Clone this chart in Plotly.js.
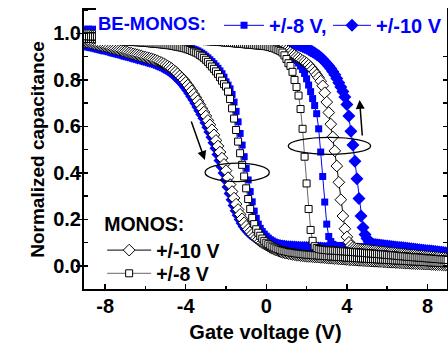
<!DOCTYPE html>
<html>
<head>
<meta charset="utf-8">
<script src="https://cdn.plot.ly/plotly-3.0.1.min.js"></script>
<style>html,body{margin:0;padding:0;background:#fff;}#chart{width:448px;height:343px;}</style>
</head>
<body>
<div id="chart"></div>
<script>
// Gate voltage grid (V), 0.1 V step
const voltage = [
-9.0,-8.9,-8.8,-8.7,-8.6,-8.5,-8.4,-8.3,-8.2,-8.1,
-8.0,-7.9,-7.8,-7.7,-7.6,-7.5,-7.4,-7.3,-7.2,-7.1,
-7.0,-6.9,-6.8,-6.7,-6.6,-6.5,-6.4,-6.3,-6.2,-6.1,
-6.0,-5.9,-5.8,-5.7,-5.6,-5.5,-5.4,-5.3,-5.2,-5.1,
-5.0,-4.9,-4.8,-4.7,-4.6,-4.5,-4.4,-4.3,-4.2,-4.1,
-4.0,-3.9,-3.8,-3.7,-3.6,-3.5,-3.4,-3.3,-3.2,-3.1,
-3.0,-2.9,-2.8,-2.7,-2.6,-2.5,-2.4,-2.3,-2.2,-2.1,
-2.0,-1.9,-1.8,-1.7,-1.6,-1.5,-1.4,-1.3,-1.2,-1.1,
-1.0,-0.9,-0.8,-0.7,-0.6,-0.5,-0.4,-0.3,-0.2,-0.1,
0.0,0.1,0.2,0.3,0.4,0.5,0.6,0.7,0.8,0.9,
1.0,1.1,1.2,1.3,1.4,1.5,1.6,1.7,1.8,1.9,
2.0,2.1,2.2,2.3,2.4,2.5,2.6,2.7,2.8,2.9,
3.0,3.1,3.2,3.3,3.4,3.5,3.6,3.7,3.8,3.9,
4.0,4.1,4.2,4.3,4.4,4.5,4.6,4.7,4.8,4.9,
5.0,5.1,5.2,5.3,5.4,5.5,5.6,5.7,5.8,5.9,
6.0,6.1,6.2,6.3,6.4,6.5,6.6,6.7,6.8,6.9,
7.0,7.1,7.2,7.3,7.4,7.5,7.6,7.7,7.8,7.9,
8.0,8.1,8.2,8.3,8.4,8.5,8.6,8.7,8.8,8.9,
9.0];

// Axis tick labels
const xTickVals = [-8, -4, 0, 4, 8];
const xTickText = ['-8', '-4', '0', '4', '8'];

// MONOS +/-10 V, left (erased) branch
const monos10Left = [
0.965,0.963,0.961,0.959,0.957,0.955,0.953,0.951,0.949,0.947,
0.945,0.943,0.941,0.938,0.936,0.934,0.931,0.929,0.927,0.924,
0.922,0.920,0.917,0.915,0.912,0.910,0.908,0.905,0.903,0.900,
0.898,0.896,0.893,0.891,0.888,0.885,0.882,0.878,0.874,0.870,
0.865,0.860,0.855,0.849,0.842,0.835,0.827,0.818,0.809,0.800,
0.790,0.778,0.766,0.753,0.739,0.725,0.710,0.694,0.678,0.662,
0.645,0.626,0.607,0.586,0.564,0.540,0.516,0.490,0.464,0.437,
0.410,0.380,0.350,0.320,0.292,0.266,0.243,0.222,0.203,0.186,
0.171,0.158,0.147,0.137,0.128,0.120,0.113,0.106,0.100,0.095,
0.090,0.085,0.080,0.076,0.072,0.068,0.065,0.062,0.059,0.057,
0.055,0.053,0.052,0.050,0.049,0.047,0.046,0.045,0.044,0.043,
0.042,0.041,0.041,0.040,0.039,0.039,0.038,0.037,0.037,0.036,
0.035,0.034,0.034,0.033,0.032,0.032,0.031,0.030,0.030,0.029,
0.028,0.027,0.027,0.026,0.026,0.025,0.024,0.024,0.023,0.023,
0.022,0.022,0.021,0.021,0.020,0.020,0.019,0.019,0.018,0.018,
0.017,0.017,0.016,0.016,0.015,0.015,0.014,0.014,0.013,0.013,
0.012,0.012,0.011,0.011,0.010,0.010,0.010,0.009,0.009,0.008,
0.008,0.008,0.007,0.007,0.006,0.006,0.006,0.005,0.005,0.004,
0.004];

// MONOS +/-10 V, right (programmed) branch
const monos10Right = [
0.992,0.992,0.992,0.991,0.991,0.991,0.990,0.990,0.990,0.990,
0.990,0.989,0.989,0.989,0.989,0.988,0.988,0.988,0.988,0.987,
0.987,0.987,0.987,0.986,0.986,0.986,0.986,0.986,0.985,0.985,
0.985,0.985,0.984,0.984,0.984,0.983,0.983,0.983,0.982,0.982,
0.982,0.981,0.981,0.981,0.980,0.980,0.980,0.979,0.979,0.979,
0.978,0.978,0.978,0.977,0.977,0.977,0.976,0.976,0.976,0.975,
0.975,0.974,0.974,0.973,0.973,0.972,0.972,0.971,0.970,0.970,
0.969,0.968,0.968,0.967,0.966,0.966,0.965,0.964,0.963,0.962,
0.962,0.961,0.960,0.960,0.959,0.958,0.958,0.957,0.956,0.956,
0.955,0.954,0.952,0.951,0.949,0.947,0.944,0.941,0.937,0.933,
0.928,0.923,0.918,0.912,0.906,0.900,0.895,0.889,0.883,0.878,
0.872,0.864,0.855,0.845,0.834,0.822,0.810,0.795,0.775,0.745,
0.705,0.660,0.610,0.555,0.495,0.430,0.360,0.285,0.215,0.160,
0.125,0.102,0.088,0.080,0.076,0.074,0.072,0.071,0.070,0.069,
0.068,0.067,0.066,0.065,0.064,0.063,0.062,0.061,0.060,0.059,
0.058,0.057,0.056,0.055,0.054,0.053,0.052,0.051,0.050,0.049,
0.048,0.047,0.046,0.046,0.045,0.044,0.043,0.042,0.041,0.040,
0.040,0.039,0.038,0.037,0.036,0.036,0.035,0.034,0.033,0.032,
0.031];

// MONOS +/-8 V, left branch
const monos8Left = [
0.978,0.977,0.977,0.976,0.976,0.975,0.975,0.974,0.973,0.973,
0.972,0.971,0.971,0.970,0.970,0.969,0.968,0.968,0.967,0.967,
0.966,0.965,0.965,0.964,0.963,0.963,0.962,0.962,0.961,0.960,
0.960,0.959,0.958,0.957,0.956,0.956,0.955,0.954,0.953,0.952,
0.951,0.950,0.949,0.948,0.946,0.944,0.943,0.941,0.939,0.937,
0.935,0.932,0.929,0.925,0.922,0.918,0.914,0.908,0.902,0.895,
0.887,0.878,0.868,0.858,0.848,0.837,0.826,0.812,0.797,0.782,
0.772,0.750,0.718,0.678,0.634,0.585,0.535,0.485,0.435,0.385,
0.334,0.288,0.245,0.207,0.180,0.158,0.143,0.130,0.118,0.108,
0.100,0.094,0.088,0.083,0.079,0.075,0.072,0.069,0.066,0.064,
0.062,0.060,0.058,0.057,0.056,0.054,0.053,0.052,0.051,0.050,
0.049,0.048,0.048,0.047,0.046,0.046,0.045,0.044,0.044,0.043,
0.042,0.042,0.041,0.041,0.040,0.039,0.039,0.038,0.038,0.037,
0.036,0.036,0.035,0.035,0.034,0.034,0.033,0.033,0.032,0.032,
0.031,0.031,0.030,0.030,0.029,0.029,0.028,0.028,0.027,0.027,
0.026,0.026,0.025,0.025,0.024,0.024,0.023,0.023,0.022,0.022,
0.021,0.021,0.020,0.020,0.019,0.019,0.018,0.018,0.017,0.017,
0.016,0.016,0.015,0.015,0.014,0.014,0.013,0.013,0.012,0.012,
0.011];

// MONOS +/-8 V, right branch
const monos8Right = [
0.988,0.988,0.988,0.987,0.987,0.987,0.987,0.986,0.986,0.986,
0.985,0.985,0.985,0.985,0.984,0.984,0.984,0.984,0.983,0.983,
0.983,0.983,0.982,0.982,0.982,0.982,0.981,0.981,0.981,0.980,
0.980,0.980,0.979,0.979,0.979,0.978,0.978,0.978,0.977,0.977,
0.976,0.976,0.976,0.975,0.975,0.974,0.974,0.974,0.973,0.973,
0.972,0.972,0.971,0.971,0.971,0.970,0.970,0.969,0.969,0.968,
0.968,0.967,0.967,0.966,0.965,0.965,0.964,0.963,0.963,0.962,
0.961,0.960,0.960,0.959,0.958,0.957,0.956,0.956,0.955,0.954,
0.953,0.952,0.952,0.951,0.950,0.949,0.948,0.948,0.947,0.946,
0.945,0.943,0.941,0.938,0.936,0.932,0.928,0.924,0.918,0.906,
0.890,0.872,0.860,0.835,0.800,0.770,0.733,0.675,0.590,0.470,
0.355,0.245,0.155,0.108,0.085,0.077,0.073,0.071,0.070,0.069,
0.068,0.067,0.067,0.066,0.066,0.065,0.064,0.064,0.063,0.063,
0.062,0.061,0.061,0.060,0.059,0.059,0.058,0.057,0.057,0.056,
0.055,0.054,0.054,0.053,0.052,0.052,0.051,0.050,0.050,0.049,
0.048,0.047,0.046,0.046,0.045,0.044,0.043,0.042,0.042,0.041,
0.040,0.039,0.039,0.038,0.037,0.037,0.036,0.035,0.035,0.034,
0.033,0.032,0.032,0.031,0.030,0.030,0.029,0.028,0.028,0.027,
0.026];

// BE-MONOS +/-8 V, left branch
const be8Left = [
0.982,0.981,0.981,0.980,0.980,0.979,0.979,0.978,0.978,0.977,
0.977,0.976,0.976,0.975,0.975,0.974,0.974,0.973,0.972,0.972,
0.971,0.971,0.970,0.970,0.969,0.968,0.968,0.967,0.966,0.966,
0.965,0.964,0.964,0.963,0.962,0.961,0.960,0.960,0.959,0.958,
0.957,0.956,0.955,0.954,0.953,0.952,0.950,0.949,0.947,0.945,
0.943,0.941,0.938,0.935,0.932,0.929,0.925,0.920,0.915,0.909,
0.902,0.895,0.887,0.879,0.870,0.860,0.850,0.839,0.827,0.812,
0.792,0.778,0.762,0.738,0.705,0.665,0.620,0.570,0.520,0.470,
0.420,0.370,0.320,0.276,0.236,0.205,0.180,0.162,0.148,0.137,
0.128,0.120,0.113,0.108,0.103,0.099,0.096,0.094,0.092,0.090,
0.088,0.087,0.086,0.086,0.085,0.084,0.084,0.083,0.083,0.082,
0.082,0.081,0.081,0.080,0.080,0.079,0.079,0.079,0.078,0.078,
0.077,0.077,0.077,0.076,0.076,0.075,0.075,0.075,0.074,0.074,
0.073,0.073,0.072,0.072,0.072,0.071,0.071,0.070,0.070,0.070,
0.069,0.069,0.068,0.068,0.067,0.067,0.066,0.066,0.065,0.065,
0.064,0.063,0.063,0.062,0.062,0.061,0.060,0.060,0.059,0.059,
0.058,0.057,0.057,0.056,0.056,0.055,0.054,0.054,0.053,0.053,
0.052,0.051,0.051,0.050,0.050,0.049,0.048,0.048,0.047,0.047,
0.046];

// BE-MONOS +/-8 V, right branch
const be8Right = [
1.005,1.005,1.005,1.005,1.004,1.004,1.004,1.004,1.004,1.003,
1.003,1.003,1.003,1.003,1.003,1.003,1.002,1.002,1.002,1.002,
1.002,1.002,1.002,1.001,1.001,1.001,1.001,1.001,1.001,1.000,
1.000,1.000,1.000,1.000,1.000,0.999,0.999,0.999,0.999,0.999,
0.998,0.998,0.998,0.997,0.997,0.997,0.996,0.996,0.996,0.995,
0.995,0.995,0.994,0.994,0.993,0.993,0.993,0.992,0.992,0.991,
0.991,0.990,0.990,0.989,0.988,0.988,0.987,0.986,0.986,0.985,
0.984,0.983,0.983,0.982,0.981,0.980,0.979,0.979,0.978,0.977,
0.976,0.975,0.975,0.974,0.973,0.972,0.972,0.971,0.970,0.970,
0.969,0.967,0.965,0.963,0.960,0.957,0.953,0.948,0.942,0.934,
0.926,0.918,0.910,0.902,0.893,0.884,0.873,0.860,0.845,0.828,
0.805,0.778,0.750,0.720,0.690,0.655,0.590,0.490,0.385,0.275,
0.180,0.127,0.105,0.093,0.089,0.088,0.087,0.087,0.086,0.086,
0.085,0.085,0.084,0.084,0.083,0.083,0.082,0.082,0.081,0.081,
0.080,0.080,0.079,0.078,0.078,0.077,0.077,0.076,0.075,0.075,
0.074,0.073,0.073,0.072,0.071,0.071,0.070,0.069,0.069,0.068,
0.067,0.066,0.066,0.065,0.064,0.063,0.063,0.062,0.061,0.060,
0.060,0.059,0.058,0.057,0.057,0.056,0.055,0.054,0.054,0.053,
0.052];

// BE-MONOS +/-10 V, left branch
const be10Left = [
0.953,0.951,0.949,0.947,0.945,0.943,0.941,0.939,0.937,0.935,
0.933,0.931,0.928,0.926,0.924,0.921,0.919,0.917,0.914,0.912,
0.910,0.907,0.905,0.902,0.900,0.898,0.895,0.893,0.890,0.888,
0.886,0.883,0.881,0.878,0.875,0.872,0.868,0.864,0.860,0.855,
0.850,0.845,0.839,0.832,0.825,0.817,0.808,0.799,0.790,0.780,
0.768,0.756,0.743,0.729,0.715,0.700,0.684,0.668,0.652,0.635,
0.616,0.597,0.576,0.554,0.530,0.506,0.480,0.454,0.427,0.400,
0.370,0.340,0.312,0.285,0.260,0.238,0.218,0.200,0.184,0.170,
0.158,0.148,0.140,0.133,0.127,0.121,0.116,0.111,0.107,0.103,
0.100,0.097,0.095,0.093,0.091,0.089,0.088,0.087,0.086,0.085,
0.084,0.083,0.083,0.082,0.082,0.081,0.081,0.080,0.080,0.079,
0.079,0.079,0.078,0.078,0.078,0.077,0.077,0.077,0.076,0.076,
0.076,0.075,0.075,0.075,0.074,0.074,0.074,0.073,0.073,0.073,
0.072,0.072,0.072,0.071,0.071,0.071,0.070,0.070,0.070,0.069,
0.069,0.068,0.068,0.067,0.067,0.066,0.066,0.065,0.065,0.064,
0.064,0.063,0.063,0.062,0.062,0.061,0.061,0.060,0.060,0.059,
0.059,0.058,0.058,0.057,0.056,0.056,0.055,0.055,0.054,0.054,
0.053,0.053,0.052,0.051,0.051,0.050,0.050,0.049,0.049,0.048,
0.048];

// BE-MONOS +/-10 V, right branch
const be10Right = [
1.008,1.008,1.008,1.008,1.007,1.007,1.007,1.007,1.007,1.006,
1.006,1.006,1.006,1.006,1.005,1.005,1.005,1.005,1.005,1.004,
1.004,1.004,1.004,1.004,1.003,1.003,1.003,1.003,1.003,1.002,
1.002,1.002,1.002,1.001,1.001,1.001,1.001,1.000,1.000,1.000,
1.000,0.999,0.999,0.999,0.999,0.998,0.998,0.998,0.997,0.997,
0.997,0.996,0.996,0.996,0.995,0.995,0.995,0.994,0.994,0.994,
0.993,0.993,0.992,0.992,0.991,0.991,0.990,0.990,0.989,0.989,
0.988,0.988,0.987,0.987,0.986,0.985,0.985,0.984,0.983,0.983,
0.982,0.981,0.981,0.980,0.979,0.979,0.978,0.977,0.977,0.976,
0.975,0.974,0.974,0.973,0.972,0.971,0.970,0.969,0.968,0.966,
0.964,0.962,0.960,0.958,0.956,0.953,0.950,0.947,0.944,0.940,
0.936,0.931,0.926,0.921,0.916,0.910,0.904,0.897,0.889,0.880,
0.870,0.860,0.849,0.836,0.822,0.806,0.788,0.770,0.750,0.727,
0.695,0.645,0.580,0.520,0.450,0.375,0.290,0.215,0.165,0.135,
0.118,0.104,0.097,0.094,0.092,0.091,0.090,0.089,0.088,0.087,
0.086,0.085,0.084,0.083,0.082,0.081,0.080,0.079,0.078,0.077,
0.076,0.075,0.074,0.073,0.072,0.071,0.070,0.069,0.068,0.067,
0.066,0.065,0.064,0.063,0.062,0.061,0.060,0.059,0.058,0.057,
0.056];

const FONT = 'Liberation Sans, Arial, sans-serif';
const BLUE = '#0000ff';

function loop(left, right) {
  return {x: voltage.concat([null], voltage), y: left.concat([null], right)};
}

const traces = [
  Object.assign(loop(be10Left, be10Right), {
    type: 'scatter', mode: 'lines+markers', name: '+/-10 V', legend: 'legend4',
    line: {color: BLUE, width: 1},
    marker: {symbol: 'diamond', size: 10, color: BLUE, line: {width: 0}},
    connectgaps: false
  }),
  Object.assign(loop(be8Left, be8Right), {
    type: 'scatter', mode: 'lines+markers', name: '+/-8 V,', legend: 'legend',
    line: {color: BLUE, width: 1},
    marker: {symbol: 'square', size: 7, color: BLUE, line: {width: 0}},
    connectgaps: false
  }),
  Object.assign(loop(monos10Left, monos10Right), {
    type: 'scatter', mode: 'lines+markers', name: '+/-10 V', legend: 'legend2',
    line: {color: '#000000', width: 1},
    marker: {symbol: 'diamond', size: 9, color: '#ffffff', line: {color: '#000000', width: 1}},
    connectgaps: false
  }),
  Object.assign(loop(monos8Left, monos8Right), {
    type: 'scatter', mode: 'lines+markers', name: '+/-8 V', legend: 'legend3',
    line: {color: '#666666', width: 1},
    marker: {symbol: 'square', size: 7, color: '#ffffff', line: {color: '#000000', width: 1}},
    connectgaps: false
  })
];

const layout = {
  width: 448, height: 343,
  margin: {l: 84, r: 1, t: 10, b: 54},
  paper_bgcolor: '#ffffff', plot_bgcolor: '#ffffff',
  font: {family: FONT, size: 19, color: '#000000', weight: 'bold'},
  showlegend: true,
  xaxis: {
    range: [-9.05, 8.97], tickmode: 'array', tickvals: xTickVals, ticktext: xTickText,
    ticks: 'inside', ticklen: 5, tickwidth: 1.5, tickcolor: '#000',
    minor: {tickmode: 'linear', tick0: 0, dtick: 2, ticks: 'inside', ticklen: 3, tickwidth: 1.5, tickcolor: '#000'},
    showline: true, linewidth: 2, linecolor: '#000', mirror: 'ticks',
    showgrid: false, zeroline: false,
    tickfont: {family: FONT, size: 20, weight: 'bold'},
    ticklabelstandoff: -2,
    title: {text: 'Gate voltage (V)', font: {family: FONT, size: 20, weight: 'bold'}, standoff: 19}
  },
  yaxis: {
    range: [-0.099, 1.101], tick0: 0, dtick: 0.2, tickformat: '.1f',
    ticks: 'outside', ticklen: 6, tickwidth: 1.5, tickcolor: '#000',
    minor: {dtick: 0.1, ticks: 'inside', ticklen: 4, tickwidth: 1.5, tickcolor: '#000'},
    showline: true, linewidth: 2, linecolor: '#000', mirror: 'ticks',
    showgrid: false, zeroline: false,
    tickfont: {family: FONT, size: 20, weight: 'bold'},
    ticklabelstandoff: -9,
    title: {text: 'Normalized capacitance', font: {family: FONT, size: 19, weight: 'bold'}, standoff: 4}
  },
  legend: {
    orientation: 'h', x: 0.033, xanchor: 'left', y: 1.015, yanchor: 'top',
    bgcolor: '#ffffff', borderwidth: 0, itemwidth: 40,
    font: {family: FONT, size: 20, color: BLUE, weight: 'bold'},
    title: {text: 'BE-MONOS:\u00a0', side: 'left', font: {family: FONT, size: 18.5, color: BLUE, weight: 'bold'}},
    itemclick: false
  },
  legend4: {
    orientation: 'h', x: 1.0, xanchor: 'right', y: 1.015, yanchor: 'top',
    bgcolor: '#ffffff', borderwidth: 0, itemwidth: 38,
    font: {family: FONT, size: 20, color: BLUE, weight: 'bold'},
    itemclick: false
  },
  legend2: {
    orientation: 'v', x: 0.05, xanchor: 'left', y: 0.299, yanchor: 'top',
    bgcolor: 'rgba(0,0,0,0)', borderwidth: 0, itemwidth: 44,
    font: {family: FONT, size: 19.5, color: '#000000', weight: 'bold'},
    title: {text: 'MONOS:', side: 'top', font: {family: FONT, size: 19.5, color: '#000000', weight: 'bold'}},
    itemclick: false
  },
  legend3: {
    orientation: 'v', x: 0.05, xanchor: 'left', y: 0.125, yanchor: 'top',
    bgcolor: 'rgba(0,0,0,0)', borderwidth: 0, itemwidth: 44,
    font: {family: FONT, size: 19.5, color: '#000000', weight: 'bold'},
    itemclick: false
  },
  shapes: [
    {type: 'circle', xref: 'x', yref: 'y', x0: -3.04, x1: 0.15, y0: 0.363, y1: 0.442, line: {color: '#000', width: 1.3}},
    {type: 'circle', xref: 'x', yref: 'y', x0: 1.09, x1: 5.18, y0: 0.48, y1: 0.553, line: {color: '#000', width: 1.3}}
  ],
  annotations: [
    {x: -3.05, y: 0.456, ax: -3.75, ay: 0.628, xref: 'x', yref: 'y', axref: 'x', ayref: 'y',
     text: '', showarrow: true, arrowhead: 2, arrowsize: 1.2, arrowwidth: 1.5, arrowcolor: '#000'},
    {x: 4.63, y: 0.714, ax: 4.77, ay: 0.555, xref: 'x', yref: 'y', axref: 'x', ayref: 'y',
     text: '', showarrow: true, arrowhead: 2, arrowsize: 1.2, arrowwidth: 1.5, arrowcolor: '#000'}
  ]
};

Plotly.newPlot('chart', traces, layout, {staticPlot: true, displayModeBar: false});
</script>
</body>
</html>
